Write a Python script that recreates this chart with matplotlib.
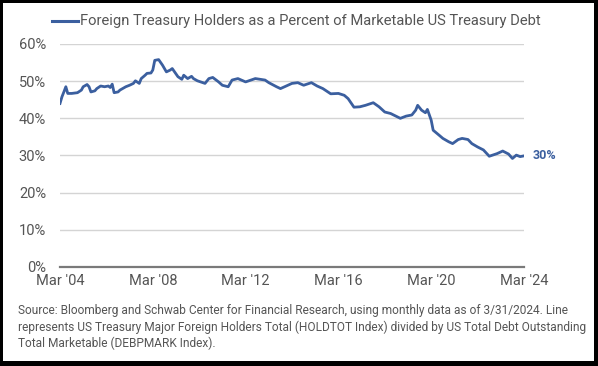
#!/usr/bin/env python3
"""Foreign Treasury holders as a share of marketable US Treasury debt."""

import matplotlib
matplotlib.use("Agg")
import matplotlib.pyplot as plt
from matplotlib.patches import Rectangle
import pandas as pd

DATES = [
    "2004-03", "2004-04", "2004-05", "2004-06", "2004-07", "2004-09", "2004-12",
    "2005-02", "2005-03", "2005-05", "2005-06", "2005-07", "2005-09", "2005-10",
    "2005-12", "2006-02", "2006-04", "2006-05", "2006-06", "2006-07", "2006-09",
    "2006-10", "2007-01", "2007-03", "2007-05", "2007-06", "2007-08", "2007-09",
    "2007-11", "2007-12", "2008-02", "2008-03", "2008-04", "2008-06", "2008-08",
    "2008-10", "2008-12", "2009-01", "2009-04", "2009-06", "2009-07", "2009-09",
    "2009-11", "2009-12", "2010-02", "2010-06", "2010-08", "2010-10", "2011-01",
    "2011-03", "2011-06", "2011-08", "2011-11", "2012-03", "2012-08", "2013-01",
    "2013-03", "2013-07", "2013-09", "2013-12", "2014-03", "2014-06", "2014-09",
    "2015-01", "2015-04", "2015-07", "2015-11", "2016-03", "2016-06", "2016-08",
    "2016-11", "2017-02", "2017-05", "2017-09", "2017-12", "2018-03", "2018-06",
    "2018-11", "2019-02", "2019-05", "2019-07", "2019-08", "2019-10", "2019-12",
    "2020-01", "2020-03", "2020-04", "2020-07", "2020-09", "2020-12", "2021-02",
    "2021-05", "2021-07", "2021-10", "2021-12", "2022-03", "2022-06", "2022-09",
    "2023-01", "2023-04", "2023-07", "2023-09", "2023-11", "2024-01", "2024-03",
]
SHARE = [
    44.0, 45.8, 47.1, 48.5, 46.7, 46.7, 46.9,
    47.6, 48.5, 49.1, 48.5, 47.1, 47.4, 48.0,
    48.7, 48.5, 48.7, 48.3, 49.2, 46.9, 47.1,
    47.6, 48.5, 48.9, 49.4, 50.1, 49.4, 50.7,
    51.6, 52.1, 52.2, 53.0, 55.6, 55.8, 54.3,
    52.5, 53.0, 53.4, 51.2, 50.5, 51.6, 50.7,
    51.3, 50.7, 50.1, 49.4, 50.7, 51.0, 49.8,
    48.9, 48.5, 50.3, 50.7, 49.8, 50.7, 50.3,
    49.6, 48.5, 48.0, 48.7, 49.4, 49.6, 48.9,
    49.6, 48.7, 48.0, 46.6, 46.7, 46.2, 45.3,
    43.0, 43.1, 43.5, 44.2, 43.1, 41.7, 41.3,
    40.0, 40.6, 40.9, 42.2, 43.5, 42.2, 41.5,
    42.4, 39.5, 36.8, 35.5, 34.6, 33.7, 33.2,
    34.3, 34.6, 34.3, 33.2, 32.3, 31.5, 29.8,
    30.5, 31.2, 30.4, 29.2, 30.1, 29.7, 29.9,
]
TICK_DATES = ["2004-03", "2008-03", "2012-03", "2016-03", "2020-03", "2024-03"]
TICK_LABELS = ["Mar '04", "Mar '08", "Mar '12", "Mar '16", "Mar '20", "Mar '24"]
Y_TICKS = [0, 10, 20, 30, 40, 50, 60]

TITLE = "Foreign Treasury Holders as a Percent of Marketable US Treasury Debt"
SOURCE = ("Source: Bloomberg and Schwab Center for Financial Research, using monthly data as of 3/31/2024. Line\n"
          "represents US Treasury Major Foreign Holders Total (HOLDTOT Index) divided by US Total Debt Outstanding\n"
          "Total Marketable (DEBPMARK Index).")

BLUE = "#3b5f9f"
GREY_TXT = "#555555"

plt.rcParams["font.family"] = ["Roboto", "DejaVu Sans"]

W, H = 598, 366
fig = plt.figure(figsize=(W / 100, H / 100), dpi=100, facecolor="black")
fig.add_artist(Rectangle((3 / W, 5 / H), 591 / W, 358 / H, transform=fig.transFigure,
                         facecolor="white", edgecolor="none", zorder=0))

ax = fig.add_axes([60 / W, (H - 267) / H, 464 / W, 223 / H])
ax.set_facecolor("none")

dates = pd.to_datetime(DATES)
ax.plot(dates, SHARE, color=BLUE, linewidth=2.0, solid_joinstyle="round", zorder=3)

ax.set_ylim(0, 60)
ax.set_xlim(pd.Timestamp("2004-03-01"), pd.Timestamp("2024-03-01"))
ax.set_yticks(Y_TICKS)
ax.set_yticklabels([f"{v}%" for v in Y_TICKS])
ax.set_xticks(pd.to_datetime(TICK_DATES))
ax.set_xticklabels(TICK_LABELS)

ax.grid(axis="y", color="#d4d4d4", linewidth=1.0)
ax.set_axisbelow(True)
for side in ["top", "right", "left"]:
    ax.spines[side].set_visible(False)
ax.spines["bottom"].set_color("#7a7a7a")
ax.spines["bottom"].set_linewidth(1.6)
ax.spines["bottom"].set_zorder(4)
ax.tick_params(axis="both", length=0, labelsize=10.5, labelcolor=GREY_TXT)
ax.tick_params(axis="y", pad=10)
ax.tick_params(axis="x", pad=5)

# end label
ax.annotate(f"{SHARE[-1]:.0f}%", (dates[-1], SHARE[-1]), xytext=(6, 0),
            textcoords="offset points", va="center", ha="left",
            color=BLUE, fontsize=9, fontweight="bold")

# legend-style title
fig.add_artist(plt.Line2D([52 / W, 78 / W], [(H - 21) / H] * 2, color=BLUE, linewidth=2.2))
fig.text(80 / W, (H - 21) / H, TITLE, ha="left", va="center", fontsize=10.6, color=GREY_TXT)

fig.text(18 / W, (H - 304) / H, SOURCE, ha="left", va="top", fontsize=8.6,
         color=GREY_TXT, linespacing=1.3)

fig.savefig("out.png", dpi=100, facecolor=fig.get_facecolor())
